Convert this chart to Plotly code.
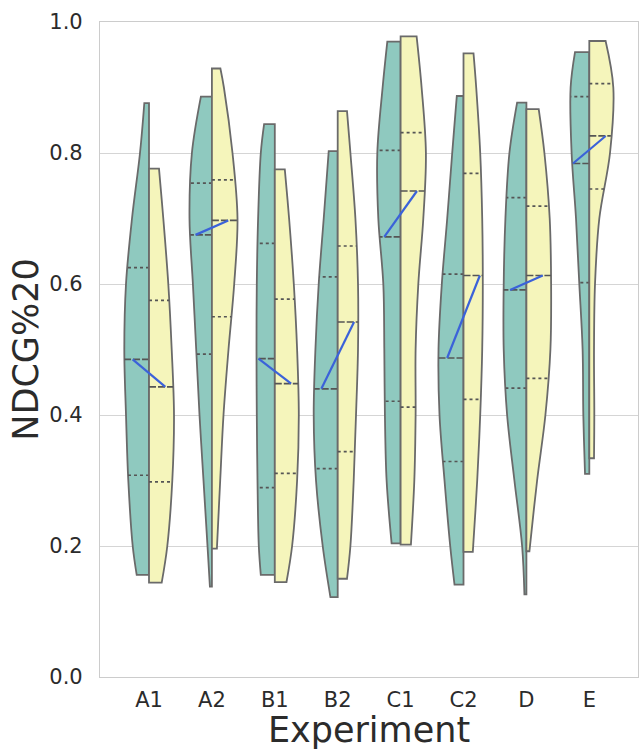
import plotly.graph_objects as go

experiments = ["A1", "A2", "B1", "B2", "C1", "C2", "D", "E"]

# left half (teal group) summary values
left_min = [0.156, 0.138, 0.156, 0.122, 0.204, 0.141, 0.126, 0.310]
left_max = [0.876, 0.886, 0.844, 0.803, 0.970, 0.887, 0.877, 0.954]
left_q1 = [0.308, 0.493, 0.289, 0.318, 0.421, 0.329, 0.441, 0.602]
left_med = [0.485, 0.675, 0.486, 0.440, 0.672, 0.487, 0.591, 0.784]
left_q3 = [0.625, 0.754, 0.662, 0.611, 0.804, 0.615, 0.732, 0.886]

# right half (yellow group) summary values
right_min = [0.144, 0.196, 0.145, 0.150, 0.202, 0.191, 0.192, 0.334]
right_max = [0.776, 0.929, 0.775, 0.864, 0.978, 0.952, 0.867, 0.971]
right_q1 = [0.298, 0.550, 0.311, 0.344, 0.412, 0.424, 0.456, 0.745]
right_med = [0.443, 0.697, 0.448, 0.542, 0.742, 0.613, 0.613, 0.826]
right_q3 = [0.575, 0.759, 0.577, 0.658, 0.831, 0.769, 0.719, 0.906]

# density profiles (levels and relative density)
left_levels = [
    [0.156, 0.2, 0.3, 0.4, 0.5, 0.6, 0.7, 0.8, 0.876],
    [0.138, 0.2, 0.3, 0.4, 0.5, 0.6, 0.7, 0.8, 0.886],
    [0.156, 0.2, 0.3, 0.4, 0.5, 0.6, 0.7, 0.8, 0.844],
    [0.122, 0.2, 0.3, 0.4, 0.5, 0.6, 0.7, 0.803],
    [0.204, 0.3, 0.4, 0.5, 0.6, 0.7, 0.8, 0.9, 0.970],
    [0.141, 0.2, 0.3, 0.4, 0.5, 0.6, 0.7, 0.8, 0.887],
    [0.126, 0.2, 0.3, 0.4, 0.5, 0.6, 0.7, 0.8, 0.877],
    [0.310, 0.4, 0.5, 0.6, 0.7, 0.8, 0.9, 0.954],
]
left_density = [
    [12.3, 16.3, 20.7, 23.0, 24.7, 23.0, 17.0, 9.0, 4.7],
    [2.0, 4.4, 8.4, 12.4, 15.7, 19.0, 22.4, 20.0, 11.0],
    [14.0, 16.0, 17.3, 18.0, 18.3, 18.0, 16.7, 14.0, 10.7],
    [7.3, 15.0, 21.7, 24.0, 22.3, 19.0, 14.0, 9.0],
    [9.0, 14.0, 15.7, 16.3, 17.3, 22.3, 23.3, 18.0, 13.3],
    [9.0, 13.3, 19.0, 24.0, 25.0, 21.7, 16.3, 11.3, 6.7],
    [2.0, 4.3, 12.0, 19.3, 22.7, 22.7, 21.0, 17.0, 9.3],
    [4.3, 6.0, 6.7, 10.0, 13.3, 17.7, 18.7, 14.3],
]
right_levels = [
    [0.144, 0.2, 0.3, 0.4, 0.5, 0.6, 0.7, 0.776],
    [0.196, 0.3, 0.4, 0.5, 0.6, 0.7, 0.8, 0.9, 0.929],
    [0.145, 0.2, 0.3, 0.4, 0.5, 0.6, 0.7, 0.775],
    [0.150, 0.2, 0.3, 0.4, 0.5, 0.6, 0.7, 0.8, 0.864],
    [0.202, 0.3, 0.4, 0.5, 0.6, 0.7, 0.8, 0.9, 0.978],
    [0.191, 0.3, 0.4, 0.5, 0.6, 0.7, 0.8, 0.9, 0.952],
    [0.192, 0.3, 0.4, 0.5, 0.6, 0.7, 0.8, 0.867],
    [0.334, 0.4, 0.5, 0.6, 0.7, 0.8, 0.9, 0.971],
]
right_density = [
    [12.7, 18.3, 23.3, 25.0, 22.7, 19.3, 14.3, 10.0],
    [5.0, 8.3, 11.6, 16.6, 22.3, 25.6, 20.6, 12.0, 8.5],
    [11.7, 17.3, 22.3, 24.0, 22.3, 19.0, 14.3, 10.0],
    [9.3, 12.7, 16.0, 18.3, 20.3, 20.3, 17.7, 12.7, 9.3],
    [10.3, 13.7, 15.0, 15.0, 17.7, 22.7, 25.3, 21.0, 16.0],
    [9.3, 13.7, 16.7, 18.7, 19.3, 18.7, 16.7, 12.7, 10.0],
    [3.0, 10.7, 19.0, 24.0, 24.7, 23.3, 18.0, 12.3],
    [4.7, 5.0, 4.7, 5.7, 10.0, 20.7, 24.0, 16.3],
]

TEAL = "#8fc9bf"
YELLOW = "#f5f5bb"
EDGE = "#6a6a6a"
INNER = "#555555"
MEDLINE = "#3b62d9"
HALF_WIDTH = 0.407
DODGE = 0.26

max_d = max(max(max(d) for d in left_density), max(max(d) for d in right_density))


def interp(levels, dens, v):
    for i in range(len(levels) - 1):
        if levels[i] <= v <= levels[i + 1]:
            t = (v - levels[i]) / (levels[i + 1] - levels[i])
            return dens[i] + t * (dens[i + 1] - dens[i])
    return dens[0] if v < levels[0] else dens[-1]


fig = go.Figure()


def add_half(c, sign, levels, dens, color, q1, med, q3):
    scale = HALF_WIDTH / max_d
    xs = [c, c]
    ys = [levels[0], levels[0]]
    for i, (lv, d) in enumerate(zip(levels, dens)):
        x = c + sign * d * scale
        if i == 0 or i == len(levels) - 1:
            xs += [x, x]
            ys += [lv, lv]
        else:
            xs.append(x)
            ys.append(lv)
    xs += [c, c, c, c]
    ys += [levels[-1], levels[-1], levels[0], levels[0]]
    fig.add_trace(go.Scatter(
        x=xs, y=ys, mode="lines", fill="toself", fillcolor=color,
        line=dict(color=EDGE, width=1.8, shape="spline", smoothing=1, simplify=False),
        hoverinfo="skip", showlegend=False))
    for q, dash in ((q1, "3px,3px"), (q3, "3px,3px"), (med, "7px,2px")):
        w = interp(levels, dens, q) * scale
        fig.add_trace(go.Scatter(
            x=[c, c + sign * w], y=[q, q], mode="lines",
            line=dict(color=INNER, width=1.7, dash=dash),
            hoverinfo="skip", showlegend=False))


for i in range(len(experiments)):
    add_half(i, -1, left_levels[i], left_density[i], TEAL, left_q1[i], left_med[i], left_q3[i])
    add_half(i, 1, right_levels[i], right_density[i], YELLOW, right_q1[i], right_med[i], right_q3[i])

bx, by = [], []
for i in range(len(experiments)):
    bx += [i - DODGE, i + DODGE, None]
    by += [left_med[i], right_med[i], None]
fig.add_trace(go.Scatter(x=bx, y=by, mode="lines", line=dict(color=MEDLINE, width=2.2),
                         hoverinfo="skip", showlegend=False))

FONT = "DejaVu Sans"
fig.update_layout(
    width=639, height=750,
    margin=dict(l=100, r=1, t=22, b=73),
    paper_bgcolor="white", plot_bgcolor="white",
    font=dict(family=FONT, color="#2b2b2b"),
    showlegend=False,
)
fig.update_xaxes(
    range=[-0.779, 7.774], tickmode="array", tickvals=list(range(len(experiments))),
    ticktext=experiments, tickfont=dict(size=21, family=FONT, color="#2b2b2b"),
    showgrid=False, zeroline=False, showline=True, linecolor="#cccccc", linewidth=1.2, mirror=True,
    ticks="outside", ticklen=4, tickcolor="rgba(0,0,0,0)",
    title=dict(text="Experiment", font=dict(size=35, family=FONT, color="#2b2b2b"), standoff=7),
)
fig.update_yaxes(
    range=[0, 1], tickmode="array", tickvals=[0, 0.2, 0.4, 0.6, 0.8, 1.0],
    ticktext=["0.0", "0.2", "0.4", "0.6", "0.8", "1.0"],
    tickfont=dict(size=21, family=FONT, color="#2b2b2b"),
    showgrid=True, gridcolor="#d5d5d5", gridwidth=1.2, zeroline=False,
    showline=True, linecolor="#cccccc", linewidth=1.2, mirror=True,
    ticks="outside", ticklen=12, tickcolor="rgba(0,0,0,0)",
    title=dict(text="NDCG%20", font=dict(size=35, family=FONT, color="#2b2b2b"), standoff=0),
)

fig.write_html("out.html")
